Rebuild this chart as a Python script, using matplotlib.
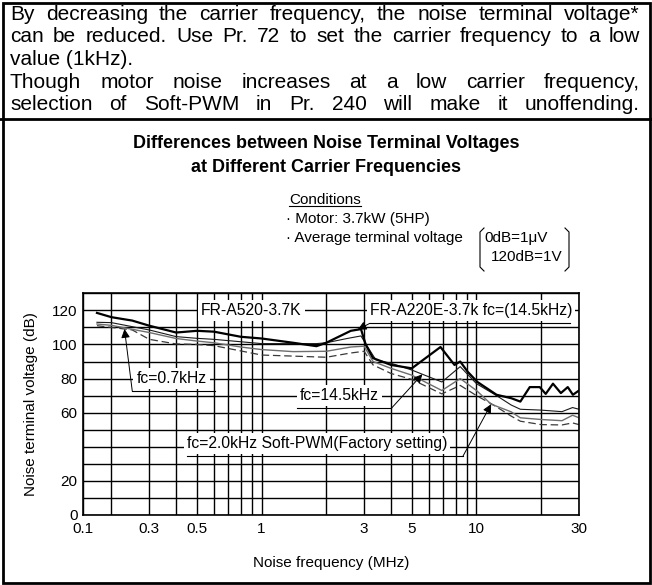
import numpy as np
import matplotlib
matplotlib.use("Agg")
import matplotlib.pyplot as plt
from matplotlib.lines import Line2D
from matplotlib.patches import Rectangle

plt.rcParams['font.family'] = ['Liberation Sans', 'DejaVu Sans']

W, H = 652, 585

# ---- measured noise terminal voltage (dB) against noise frequency (MHz)
# FR-A220E-3.7k, carrier 14.5 kHz
freq_a220e = [0.14, 0.2, 0.25, 0.3, 0.4, 0.5, 0.6, 0.8, 1.0, 1.4, 1.8, 2.0, 2.6, 2.9,
              3.05, 3.3, 4.0, 5.0, 6.8, 7.9, 8.4, 9.1, 10.1, 12.4, 14.5, 16.0, 17.7,
              19.7, 21.0, 22.7, 24.7, 26.6, 28.1, 30.0]
volt_a220e = [118.5, 116, 114, 111, 107, 108, 107.5, 104.5, 103.5, 101, 99, 101, 108, 109,
              100, 92, 88, 86, 98.5, 88, 90, 84, 78, 70.5, 68.5, 66.5, 75,
              75, 71, 77, 71.5, 75, 70.5, 73]

# FR-A520-3.7K, carrier 14.5 kHz
freq_fc145 = [0.14, 0.2, 0.3, 0.4, 0.5, 0.6, 1.0, 1.8, 2.0, 2.5, 2.9, 3.1, 3.4, 4.0,
              5.0, 6.9, 8.4, 10.0, 12.4, 14.5, 16.0, 20.0, 25.0, 28.0, 30.0]
volt_fc145 = [113, 112.8, 108.5, 104.6, 103.6, 103, 100.5, 100.5, 101, 103.5, 105, 99, 91, 89,
              85, 78, 87, 77, 70, 64.5, 62, 61.5, 60.6, 63, 62]

# FR-A520-3.7K, carrier 2.0 kHz Soft-PWM
freq_fc20 = [0.14, 0.2, 0.3, 0.4, 0.5, 0.6, 0.8, 1.0, 1.4, 2.0, 2.6, 3.0, 3.3, 4.0,
             5.0, 6.9, 8.4, 10.0, 11.7, 14.5, 16.0, 20.0, 25.0, 28.0, 30.0]
volt_fc20 = [112, 111.2, 107, 103.5, 102, 101, 98.5, 97, 95.8, 96, 98.5, 99, 90, 86,
             82, 73, 80, 73, 65, 60.5, 57, 56, 55.3, 58.5, 57]

# FR-A520-3.7K, carrier 0.7 kHz
freq_fc07 = [0.14, 0.2, 0.25, 0.3, 0.4, 0.5, 0.6, 1.0, 2.0, 2.6, 3.0, 3.3, 4.0, 5.0,
             6.9, 8.4, 10.0, 12.0, 14.5, 16.0, 20.0, 25.0, 28.0, 30.0]
volt_fc07 = [111, 110, 108.5, 103, 100.3, 100, 99.3, 93.8, 92.5, 95, 96, 88, 83, 79.5,
             71, 76, 70, 64.5, 58, 55, 53, 52.8, 54, 53]

x_major = [0.1, 0.3, 0.5, 1, 3, 5, 10, 30]
x_major_labels = ['0.1', '0.3', '0.5', '1', '3', '5', '10', '30']
x_minor = [0.2, 0.4, 0.6, 0.7, 0.8, 0.9, 2, 4, 6, 7, 8, 9, 20]
y_major = [0, 20, 60, 80, 100, 120]
y_major_labels = ['0', '20', '60', '80', '100', '120']
y_minor = [10, 30, 40, 50, 70, 90, 110, 130]

paragraph = [
    ("By decreasing the carrier frequency, the noise terminal voltage*", True),
    ("can be reduced. Use Pr. 72 to set the carrier frequency to a low", True),
    ("value (1kHz).", False),
    ("Though motor noise increases at a low carrier frequency,", True),
    ("selection of Soft-PWM in Pr. 240 will make it unoffending.", True),
]
title_lines = ["Differences between Noise Terminal Voltages",
               "at Different Carrier Frequencies"]


def px(x, y):
    """pixel position (from top-left) -> figure fraction"""
    return x / W, 1 - y / H


# log axis whose first segment (below 0.2 MHz) is compressed
L02 = np.log10(0.2)
K = 0.435


def fwd(f):
    u = np.log10(np.clip(np.asarray(f, dtype=float), 1e-9, None))
    return np.where(u < L02, L02 + (u - L02) * K, u)


def inv(v):
    v = np.asarray(v, dtype=float)
    return np.where(v < L02, 10 ** (L02 + (v - L02) / K), 10 ** v)


def at(freqs, volts, f0):
    return float(np.interp(np.log10(f0), np.log10(freqs), volts))


fig = plt.figure(figsize=(W / 100, H / 100), dpi=100)
renderer = fig.canvas.get_renderer()

# ---- outer frame and divider
fig.add_artist(Rectangle(px(2.5, H - 2.5), (W - 5) / W, (H - 5) / H,
                         transform=fig.transFigure, fill=False, lw=2, ec='black'))
fig.add_artist(Line2D([0, 1], [px(0, 119)[1]] * 2, transform=fig.transFigure,
                      lw=2, color='black'))

# ---- justified paragraph
P_FS = 15
x_left, x_right = 10, 640
baselines = [19.5, 42.5, 65, 88, 110.5]
for (line, just), yb in zip(paragraph, baselines):
    if not just:
        fig.text(*px(x_left, yb), line, fontsize=P_FS, ha='left', va='baseline')
        continue
    words = line.split()
    arts = [fig.text(*px(0, yb), w, fontsize=P_FS, ha='left', va='baseline') for w in words]
    widths = [a.get_window_extent(renderer).width for a in arts]
    gap = (x_right - x_left - sum(widths)) / (len(words) - 1)
    x = x_left
    for a, w in zip(arts, widths):
        a.set_position(px(x, yb))
        x += w + gap

# ---- titles
fig.text(*px(326, 143), title_lines[0], fontsize=13, fontweight='bold', ha='center', va='center')
fig.text(*px(326, 167), title_lines[1], fontsize=13, fontweight='bold', ha='center', va='center')

# ---- conditions block
C_FS = 11
t = fig.text(*px(289, 200), "Conditions", fontsize=C_FS, ha='left', va='center')
bb = t.get_window_extent(renderer)
fig.add_artist(Line2D([bb.x0 / W, bb.x1 / W], [(bb.y0 + 1) / H] * 2,
                      transform=fig.transFigure, lw=0.8, color='black'))
fig.text(*px(286, 219), "\u00b7 Motor: 3.7kW (5HP)", fontsize=C_FS, ha='left', va='center')
fig.text(*px(286, 238), "\u00b7 Average terminal voltage", fontsize=C_FS, ha='left', va='center')
fig.text(*px(484, 238), "0dB=1\u03bcV", fontsize=C_FS, ha='left', va='center')
fig.text(*px(491, 257), "120dB=1V", fontsize=C_FS, ha='left', va='center')
for xs in ([484, 480, 480, 484], [565, 569, 569, 565]):
    ys = [228, 232, 267, 271]
    fig.add_artist(Line2D([x / W for x in xs], [1 - y / H for y in ys],
                          transform=fig.transFigure, lw=0.8, color='black'))

# ---- chart
ax = fig.add_axes([83.3 / W, (H - 515) / H, (579 - 83.3) / W, (515 - 293.3) / H])
ax.set_xscale('function', functions=(fwd, inv))
ax.set_xlim(0.1, 30)
ax.set_ylim(0, 130)
ax.set_xticks(x_major)
ax.set_xticklabels(x_major_labels)
ax.set_xticks(x_minor, minor=True)
ax.set_yticks(y_major)
ax.set_yticklabels(y_major_labels)
ax.set_yticks(y_minor, minor=True)
ax.tick_params(which='both', length=0, labelsize=11)
ax.tick_params(axis='x', pad=5)
ax.tick_params(axis='y', pad=4)
ax.set_axisbelow(True)
ax.grid(which='both', color='black', lw=1.0)
for s in ax.spines.values():
    s.set_linewidth(1.2)

ax.plot(freq_fc07, volt_fc07, color='#3a3a3a', lw=0.9, ls=(0, (6, 3)), zorder=2)
ax.plot(freq_fc20, volt_fc20, color='#6e6e6e', lw=1.0, zorder=2)
ax.plot(freq_fc145, volt_fc145, color='#1a1a1a', lw=0.8, zorder=2)
ax.plot(freq_a220e, volt_a220e, color='black', lw=1.6, zorder=2.5)

fig.text(*px(31, 404), "Noise terminal voltage (dB)", fontsize=11, rotation=90,
         ha='center', va='center')
fig.text(*px(331, 563), "Noise frequency (MHz)", fontsize=11, ha='center', va='center')

# ---- callouts
A_FS = 11.3
box = dict(boxstyle='square,pad=0.2', fc='white', ec='none')
arrow = dict(arrowstyle='-|>', mutation_scale=13, lw=0.7, color='black',
             shrinkA=0, shrinkB=0)


def callout(text, tx, ty, ul_y, ul_x0, ul_x1, lead, tip, ha='left'):
    ax.text(tx, ty, text, fontsize=A_FS, ha=ha, va='center', bbox=box, zorder=4)
    if ul_y is not None:
        ax.plot([ul_x0, ul_x1], [ul_y, ul_y], color='black', lw=0.8, zorder=5)
    if tip is not None:
        ax.annotate('', xy=tip, xytext=lead, arrowprops=arrow, zorder=5)


callout("FR-A520-3.7K", 0.897, 120, None, None, None, None, None, ha='center')
callout("FR-A220E-3.7k fc=(14.5kHz)", 3.19, 120, 112.4, 3.19, 27.2, (3.19, 112.4),
        (2.8, at(freq_a220e, volt_a220e, 2.8)))
callout("fc=0.7kHz", 0.262, 80, 72.7, 0.25, 0.607, (0.25, 72.7),
        (0.23, at(freq_fc07, volt_fc07, 0.23)))
callout("fc=14.5kHz", 1.51, 70, 62.6, 1.46, 4.02, (4.02, 62.6),
        (5.6, at(freq_fc145, volt_fc145, 5.6)))
callout("fc=2.0kHz Soft-PWM(Factory setting)", 0.448, 42, 34.6, 0.448, 8.66, (8.66, 34.6),
        (11.7, at(freq_fc20, volt_fc20, 11.7)))

fig.savefig("out.png", dpi=100)
